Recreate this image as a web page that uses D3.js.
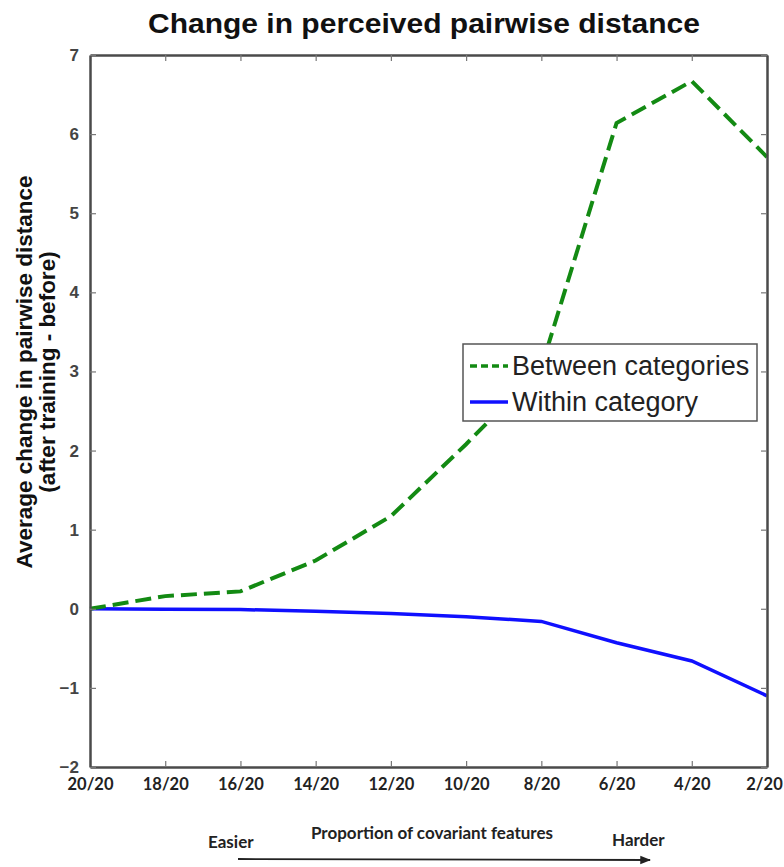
<!DOCTYPE html>
<html><head><meta charset="utf-8">
<script src="https://cdn.jsdelivr.net/npm/d3@7"></script>
<style>body{margin:0;background:#fff}</style>
</head><body><svg id="c" width="784" height="867"></svg>
<script>
const categories = ["20/20","18/20","16/20","14/20","12/20","10/20","8/20","6/20","4/20","2/20"];
const betweenValues = [0.0, 0.16, 0.22, 0.61, 1.17, 2.08, 3.05, 6.14, 6.67, 5.71];
const withinValues = [0.0, -0.005, -0.01, -0.03, -0.06, -0.1, -0.16, -0.43, -0.66, -1.1];
const yTicks = [-2,-1,0,1,2,3,4,5,6,7];
const seriesNames = ["Between categories","Within category"];

const svg = d3.select("#c");
const m = {l:90, r:767, t:55, b:767};
const x = d3.scalePoint().domain(categories).range([m.l, m.r]);
const y = d3.scaleLinear().domain([-2,7]).range([m.b, m.t]);

// title
svg.append("text").attr("x",424).attr("y",33).attr("text-anchor","middle")
  .attr("font-family","Liberation Sans, Arial, sans-serif").attr("font-weight","bold")
  .attr("font-size",27).attr("fill","#111")
  .attr("textLength",552).attr("lengthAdjust","spacingAndGlyphs")
  .text("Change in perceived pairwise distance");

// lines
const line = d3.line().x((d,i)=>x(categories[i])).y(d=>y(d));
svg.append("path").datum(withinValues).attr("d",line).attr("fill","none")
  .attr("stroke","#1010ff").attr("stroke-width",3.5);
svg.append("path").datum(betweenValues).attr("d",line).attr("fill","none")
  .attr("stroke","#138a13").attr("stroke-width",4).attr("stroke-dasharray","16,7");

// axes
const axColor = "#4a4a4a";
const gB = svg.append("g").attr("transform",`translate(0,${m.b})`)
  .call(d3.axisBottom(x).tickSizeInner(-6).tickSizeOuter(0).tickPadding(11));
gB.selectAll("text").attr("font-family","Lato, sans-serif").attr("font-weight","bold")
  .attr("font-size",16.5).attr("fill","#222");
gB.selectAll(".tick").filter(d=>d===categories[categories.length-1]).select("text").attr("dx",-3);
const gT = svg.append("g").attr("transform",`translate(0,${m.t})`)
  .call(d3.axisTop(x).tickSizeInner(-6).tickSizeOuter(0).tickFormat(""));
const gL = svg.append("g").attr("transform",`translate(${m.l},0)`)
  .call(d3.axisLeft(y).tickValues(yTicks).tickFormat(d=>d<0?"\u2212"+Math.abs(d):d).tickSizeInner(-6).tickSizeOuter(0).tickPadding(11));
gL.selectAll("text").attr("font-family","Liberation Sans, Arial, sans-serif").attr("font-weight","bold")
  .attr("font-size",17).attr("fill","#444");
const gR = svg.append("g").attr("transform",`translate(${m.r},0)`)
  .call(d3.axisRight(y).tickValues(yTicks).tickSizeInner(-6).tickSizeOuter(0).tickFormat(""));
[gB,gT,gL,gR].forEach(g=>{
  g.select(".domain").attr("stroke",axColor).attr("stroke-width",2.5);
  g.selectAll(".tick line").attr("stroke","#777").attr("stroke-width",1.2);
});

// y label
const yl = svg.append("g").attr("transform","translate(32,372) rotate(-90)")
  .attr("font-family","Liberation Sans, Arial, sans-serif").attr("font-weight","bold")
  .attr("font-size",22.5).attr("fill","#111").attr("text-anchor","middle");
yl.append("text").attr("x",0).attr("y",0).text("Average change in pairwise distance");
yl.append("text").attr("x",0).attr("y",23).text("(after training - before)");

// legend
const lg = svg.append("g");
lg.append("rect").attr("x",463).attr("y",344).attr("width",294).attr("height",77)
  .attr("fill","#fff").attr("stroke","#555").attr("stroke-width",1.5);
lg.append("line").attr("x1",470).attr("x2",508).attr("y1",366).attr("y2",366)
  .attr("stroke","#138a13").attr("stroke-width",3.5).attr("stroke-dasharray","7,4");
lg.append("line").attr("x1",470).attr("x2",508).attr("y1",402).attr("y2",402)
  .attr("stroke","#1010ff").attr("stroke-width",3.5);
lg.selectAll("text.lt").data(seriesNames).enter().append("text")
  .attr("x",512).attr("y",(d,i)=>375+i*36)
  .attr("font-family","Liberation Sans, Arial, sans-serif").attr("font-size",27)
  .attr("fill","#222").text(d=>d);

// x label and arrow
const xf = "Lato, sans-serif";
svg.append("text").attr("x",432).attr("y",839).attr("text-anchor","middle")
  .attr("font-family",xf).attr("font-weight","bold").attr("font-size",17).attr("fill","#222")
  .text("Proportion of covariant features");
svg.append("text").attr("x",208).attr("y",848)
  .attr("font-family",xf).attr("font-weight","bold").attr("font-size",17).attr("fill","#222").text("Easier");
svg.append("text").attr("x",612).attr("y",846)
  .attr("font-family",xf).attr("font-weight","bold").attr("font-size",17).attr("fill","#222").text("Harder");
svg.append("defs").append("marker").attr("id","ah").attr("viewBox","0 0 10 10")
  .attr("refX",9).attr("refY",5).attr("markerWidth",6).attr("markerHeight",6).attr("orient","auto")
  .append("path").attr("d","M0,1 L10,5 L0,9 Z").attr("fill","#222");
svg.append("line").attr("x1",238).attr("x2",650).attr("y1",859).attr("y2",860)
  .attr("stroke","#222").attr("stroke-width",1.8).attr("marker-end","url(#ah)");
</script></body></html>
